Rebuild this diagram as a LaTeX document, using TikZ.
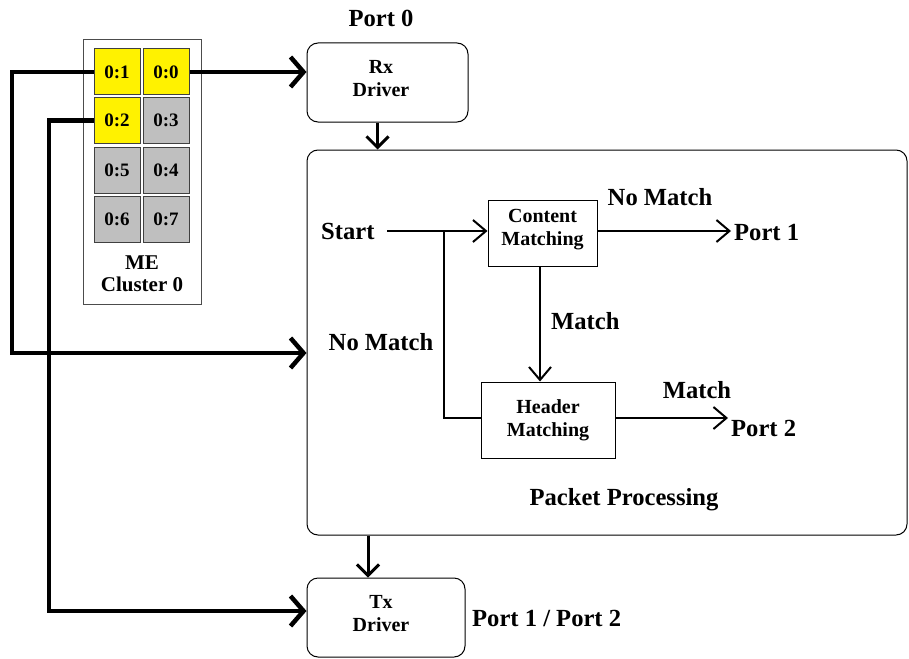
\documentclass[tikz,border=0pt]{standalone}
\usepackage{fontspec}
\setmainfont{Liberation Serif}
\usetikzlibrary{arrows.meta}
\begin{document}
\begin{tikzpicture}[x=1pt,y=-1pt,
  boxtext/.style={font=\bfseries\fontsize{20}{23}\selectfont,align=center,inner sep=0pt},
  lbl/.style={font=\bfseries\fontsize{24.6}{30}\selectfont,inner sep=0pt},
  cell/.style={draw=black!75,line width=1pt,minimum width=46pt,minimum height=46pt,inner sep=0pt,font=\bfseries\fontsize{19}{22}\selectfont},
  on/.style={cell,fill=yellow},
  off/.style={cell,fill=black!25},
  rbox/.style={draw,line width=1pt,rounded corners=11pt,inner sep=0pt},
  sbox/.style={draw,line width=1pt,inner sep=0pt},
  bigarrow/.style={line width=4.5pt,-{Straight Barb[length=13pt,width=30pt,line width=4.5pt]}},
  medarrow/.style={line width=3pt,-{Straight Barb[length=11pt,width=22pt,line width=3pt]}},
  thinarrow/.style={line width=2pt,-{Straight Barb[length=13pt,width=22pt,line width=2pt]}},
  thinline/.style={line width=2pt}
]
\useasboundingbox (0,0) rectangle (909,658);
% ME cluster
\node[draw=black!70,line width=1pt,minimum width=118pt,minimum height=264pt,inner sep=0pt] (me) at (142,172) {};
\node[on] (c01) at (117,72) {0:1};
\node[on] (c00) at (166,72) {0:0};
\node[on] (c02) at (117,120.5) {0:2};
\node[off] (c03) at (166,120.5) {0:3};
\node[off] (c05) at (117,170) {0:5};
\node[off] (c04) at (166,170) {0:4};
\node[off] (c06) at (117,219.5) {0:6};
\node[off] (c07) at (166,219.5) {0:7};
\node[boxtext,font=\bfseries\fontsize{21}{22}\selectfont] (mel) at (142,274) {ME\\Cluster 0};
% Rx / Tx
\node[rbox,minimum width=161pt,minimum height=79pt] (rx) at (387.5,82.5) {};
\node[boxtext] (rxl) at (381,79) {Rx\\Driver};
\node[lbl] (p0) at (381,18) {Port 0};
\node[rbox,minimum width=600pt,minimum height=385pt] (pp) at (607,342.5) {};
\node[lbl] (ppl) at (624,500) {Packet Processing};
\node[rbox,minimum width=158pt,minimum height=79pt] (tx) at (386,617.5) {};
\node[boxtext] (txl) at (381,614) {Tx\\Driver};
\node[lbl,anchor=west] (p12) at (472,618) {Port 1 / Port 2};
% inner boxes
\node[sbox,minimum width=109pt,minimum height=66pt] (cm) at (542.5,233) {};
\node[boxtext] (cml) at (542.5,230) {Content\\Matching};
\node[sbox,minimum width=134pt,minimum height=76pt] (hm) at (548,420) {};
\node[boxtext] (hml) at (548,420) {Header\\Matching};
% labels
\node[lbl,anchor=west] (st) at (321,231) {Start};
\node[lbl] (nm1) at (660,197) {No Match};
\node[lbl,anchor=west] (pt1) at (734,232) {Port 1};
\node[lbl] (nm2) at (381,342) {No Match};
\node[lbl,anchor=west] (m1) at (551,321) {Match};
\node[lbl] (m2) at (697,390) {Match};
\node[lbl,anchor=west] (pt2) at (731,428) {Port 2};
% coordinates
\coordinate (s0) at (387,231);
\coordinate (br) at (444,231);
\coordinate (e1) at (731,231);
\coordinate (e2) at (728,418);
\coordinate (l1) at (12,353);
\coordinate (l2) at (49,611);
% connectors
\draw[thinarrow] (s0) -- (s0 -| cm.west);
\draw[thinline] (br) |- (hm.west |- e2);
\draw[thinarrow] (cm.east |- e1) -- (e1);
\draw[thinarrow] ([xshift=-2.5pt]cm.south) -- ([xshift=-2.5pt]cm.south |- hm.north);
\draw[thinarrow] (hm.east |- e2) -- (e2);
\draw[bigarrow] (c00.east) -- (c00.east -| rx.west);
\draw[bigarrow] (c01.west) -| (l1) -- (l1 -| pp.west);
\draw[bigarrow] (c02.west) -| (l2) -- (l2 -| tx.west);
\draw[medarrow] ([xshift=-10pt]rx.south) -- ([xshift=-10pt]rx.south |- pp.north);
\draw[medarrow] ([xshift=-18pt]tx.north |- pp.south) -- ([xshift=-18pt]tx.north);
\end{tikzpicture}
\end{document}
